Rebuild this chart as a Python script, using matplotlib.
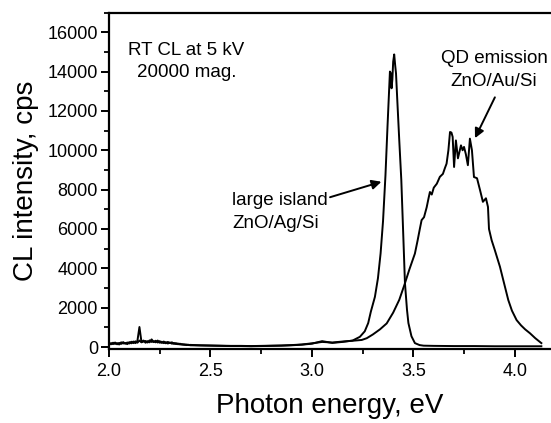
"""CL spectra: large ZnO island on Ag/Si vs ZnO QD emission on Au/Si."""

import matplotlib
matplotlib.use("Agg")
import matplotlib.pyplot as plt
from matplotlib.ticker import MultipleLocator

plt.rcParams.update({
    "font.family": ["Liberation Sans", "DejaVu Sans"],
    "font.size": 13,
})

# baseline region, shared energy grid (eV)
base_e = [2.00, 2.01, 2.02, 2.03, 2.04, 2.05, 2.06, 2.07, 2.08, 2.09,
          2.10, 2.11, 2.12, 2.13, 2.14, 2.15, 2.16, 2.17, 2.18, 2.19,
          2.20, 2.21, 2.22, 2.23, 2.24, 2.25, 2.26, 2.27, 2.28, 2.29,
          2.30, 2.31, 2.32, 2.33, 2.34, 2.35, 2.36, 2.37, 2.38, 2.39,
          2.40, 2.45, 2.50, 2.55, 2.60, 2.65, 2.70, 2.75, 2.80, 2.85,
          2.90, 2.95, 3.00, 3.05, 3.10, 3.15, 3.20]

ag_base = [190, 140, 220, 160, 200, 130, 240, 180, 210, 150,
           250, 190, 280, 200, 310, 1020, 260, 330, 220, 300,
           240, 390, 250, 320, 230, 300, 210, 280, 190, 260,
           200, 240, 160, 200, 140, 170, 120, 140, 100, 120,
           90, 80, 70, 60, 50, 50, 40, 50, 60, 70,
           90, 120, 170, 300, 210, 260, 330]

au_base = [120, 200, 150, 230, 140, 210, 160, 250, 170, 230,
           180, 270, 200, 290, 220, 330, 240, 280, 310, 230,
           340, 260, 300, 240, 330, 220, 270, 200, 250, 180,
           230, 170, 210, 150, 180, 130, 150, 110, 130, 100,
           110, 90, 80, 70, 60, 60, 50, 60, 70, 80,
           100, 130, 190, 260, 230, 280, 320]

# large island ZnO/Ag/Si - sharp peak
ag_peak_e = [3.236, 3.26, 3.277, 3.29, 3.31, 3.325, 3.338, 3.35, 3.362, 3.372,
             3.384, 3.389, 3.392, 3.396, 3.40, 3.405, 3.41, 3.414, 3.42, 3.43,
             3.44, 3.45, 3.458, 3.468, 3.475, 3.49, 3.507, 3.53, 3.55, 3.60,
             3.70, 3.80, 3.90, 4.00, 4.13]
ag_peak_i = [520, 800, 1220, 1800, 2550, 3500, 4760, 6400, 8730, 11200,
             14000, 13900, 13150, 13600, 14500, 14870, 14300, 13900, 12600, 10500,
             8500, 5600, 3250, 1900, 1220, 550, 200, 100, 70, 60,
             50, 50, 40, 40, 40]

# QD emission ZnO/Au/Si - broad peak
au_peak_e = [3.245, 3.27, 3.30, 3.335, 3.368, 3.40, 3.43, 3.455, 3.48, 3.507,
             3.52, 3.532, 3.54, 3.552, 3.565, 3.575, 3.581, 3.59, 3.60, 3.615,
             3.63, 3.645, 3.655, 3.663, 3.672, 3.680, 3.687, 3.693, 3.700, 3.709,
             3.719, 3.734, 3.742, 3.749, 3.758, 3.768, 3.778, 3.788, 3.798, 3.813,
             3.828, 3.842, 3.857, 3.867, 3.872, 3.885, 3.90, 3.926, 3.94, 3.967,
             3.985, 4.008, 4.03, 4.05, 4.074, 4.10, 4.13]
au_peak_i = [360, 450, 640, 900, 1200, 1750, 2400, 3150, 3950, 4750,
             5400, 6040, 6450, 6600, 7100, 7600, 7880, 7750, 8100, 8300,
             8650, 8800, 9100, 9320, 10000, 10930, 10900, 10680, 9150, 10500,
             9590, 10250, 10000, 10170, 9800, 9240, 10590, 10000, 8640, 8580,
             7970, 7380, 7560, 7120, 6000, 5430, 4950, 4080, 3500, 2390,
             1850, 1370, 1100, 900, 700, 450, 200]

ag_e = base_e + ag_peak_e
ag_i = ag_base + ag_peak_i
au_e = base_e + au_peak_e
au_i = au_base + au_peak_i

fig = plt.figure(figsize=(5.51, 4.23), dpi=100)
ax = fig.add_axes([0.1978, 0.1749, 0.8105, 0.7955])

ax.plot(ag_e, ag_i, color="black", lw=1.4)
ax.plot(au_e, au_i, color="black", lw=1.4)

ax.set_xlim(2.0, 4.2)
ax.set_ylim(-100, 17000)
ax.xaxis.set_major_locator(MultipleLocator(0.5))
ax.xaxis.set_minor_locator(MultipleLocator(0.25))
ax.yaxis.set_major_locator(MultipleLocator(2000))
ax.yaxis.set_minor_locator(MultipleLocator(1000))
ax.xaxis.set_major_formatter(plt.FormatStrFormatter("%.1f"))

for s in ax.spines.values():
    s.set_linewidth(1.6)
ax.spines["right"].set_visible(False)
ax.tick_params(which="major", direction="out", length=6, width=1.4,
               labelsize=13, top=False, right=False)
ax.tick_params(which="minor", direction="out", length=3.5, width=1.3,
               top=False, right=False)
ax.tick_params(axis="x", which="major", pad=4)
ax.tick_params(axis="y", which="major", pad=2)

fig.text(330 / 551, 10 / 423, "Photon energy, eV", fontsize=20,
         ha="center", va="baseline")
fig.text(33 / 551, 1 - 181 / 423, "CL intensity, cps", fontsize=20,
         rotation=90, rotation_mode="anchor", ha="center", va="baseline")

ax.text(2.379, 14822, "RT CL at 5 kV", ha="center", va="baseline", fontsize=13.5)
ax.text(2.384, 13720, "20000 mag.", ha="center", va="baseline", fontsize=13.5)
ax.text(3.897, 14410, "QD emission", ha="center", va="baseline", fontsize=13.5)
ax.text(3.897, 13257, "ZnO/Au/Si", ha="center", va="baseline", fontsize=13.5)
ax.text(2.606, 7243, "large island", ha="left", va="baseline", fontsize=13.5)
ax.text(2.606, 6060, "ZnO/Ag/Si", ha="left", va="baseline", fontsize=13.5)

arrow = dict(arrowstyle="-|>", color="black", lw=1.4, mutation_scale=14,
             shrinkA=0, shrinkB=0)
ax.annotate("", xy=(3.342, 8400), xytext=(3.089, 7614), arrowprops=arrow)
ax.annotate("", xy=(3.803, 10615), xytext=(3.901, 12690), arrowprops=arrow)

fig.savefig("out.png", dpi=100)
